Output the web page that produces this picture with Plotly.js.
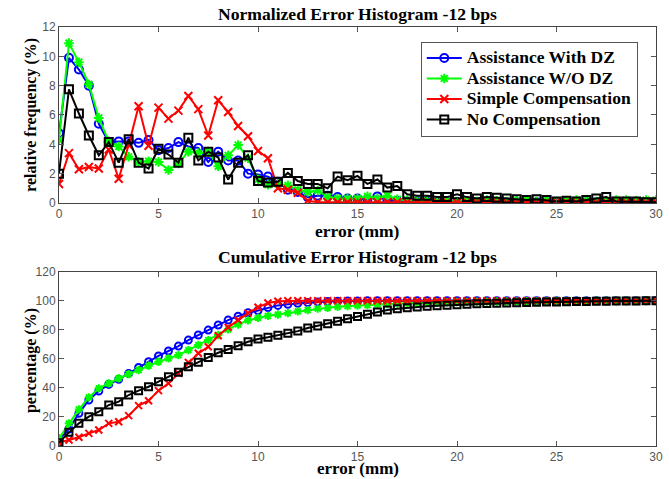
<!DOCTYPE html>
<html>
<head>
<meta charset="utf-8">
<script src="https://cdn.plot.ly/plotly-3.0.1.min.js"></script>
<style>html,body{margin:0;padding:0;background:#fff;}#chart{width:669px;height:479px;}</style>
</head>
<body>
<div id="chart"></div>
<script>
// error bins (mm)
const errorBins = [0,0.5,1,1.5,2,2.5,3,3.5,4,4.5,5,5.5,6,6.5,7,7.5,8,8.5,9,9.5,10,10.5,11,11.5,12,12.5,13,13.5,14,14.5,15,15.5,16,16.5,17,17.5,18,18.5,19,19.5,20,20.5,21,21.5,22,22.5,23,23.5,24,24.5,25,25.5,26,26.5,27,27.5,28,28.5,29,29.5,30];

const seriesNames = ["Assistance With DZ","Assistance W/O DZ","Simple Compensation","No Compensation"];

// Normalized error histogram (relative frequency, %)
const relWithDZ = [4.75,9.9,9.1,8.0,5.4,4.15,4.2,4.2,4.1,4.3,3.6,3.75,4.15,3.85,3.75,2.8,3.5,2.9,2.9,2.0,1.95,1.8,1.45,0.9,0.75,0.4,0.5,0.5,0.4,0.3,0.3,0.25,0.45,0.2,0.15,0.1,0.1,0.1,0.05,0.05,0.05,0.05,0.05,0.05,0.05,0.05,0.05,0.05,0.05,0.05,0.05,0.05,0.05,0.05,0.05,0.05,0.05,0.05,0.05,0.05,0.05];
const relWithoutDZ = [4.3,10.9,9.6,8.1,5.8,4.2,3.85,3.15,2.8,2.85,2.8,2.25,2.7,3.5,3.4,3.5,2.5,3.25,3.95,3.05,1.6,1.25,1.3,1.2,0.9,0.75,0.85,0.4,0.3,0.3,0.3,0.45,0.3,0.5,0.25,0.2,0.15,0.15,0.1,0.15,0.1,0.15,0.1,0.2,0.15,0.1,0.15,0.2,0.1,0.15,0.1,0.15,0.2,0.15,0.1,0.15,0.2,0.2,0.15,0.2,0.2];
const relSimple = [1.3,3.4,2.3,2.45,2.35,3.65,1.65,3.95,6.6,3.9,6.5,5.75,6.3,7.3,6.4,4.6,7.0,6.2,5.25,4.55,3.55,3.05,1.0,0.9,0.7,0.15,0.05,0.05,0.05,0.05,0.05,0.05,0.05,0.05,0.05,0.05,0.05,0.05,0.05,0.05,0.05,0.05,0.05,0.05,0.05,0.05,0.05,0.05,0.05,0.05,0.05,0.05,0.05,0.05,0.05,0.05,0.05,0.05,0.05,0.05,0.05];
const relNone = [2.0,7.75,6.1,4.6,3.25,4.15,2.75,4.35,2.75,2.35,3.7,3.3,2.75,4.45,2.9,3.5,3.1,1.6,2.75,3.25,1.5,1.4,1.45,2.05,1.5,1.3,1.3,1.0,1.8,1.55,1.85,1.3,1.6,1.05,1.15,0.6,0.5,0.5,0.4,0.4,0.6,0.4,0.3,0.4,0.35,0.3,0.25,0.2,0.25,0.2,0.1,0.15,0.1,0.2,0.3,0.4,0.1,0.1,0.1,0.05,0.05];

// Cumulative error histogram (percentage, %)
const cumWithDZ = [4.1,11.7,22.5,31.7,37.8,42.4,45.9,50,54.1,58,62,65.4,68.8,72.9,76.4,79.8,83.3,86.7,89.4,91.7,93.3,95.3,96.8,97.6,98.2,98.8,99.2,99.5,99.7,99.8,99.9,100,100,100,100,100,100,100,100,100,100,100,100,100,100,100,100,100,100,100,100,100,100,100,100,100,100,100,100,100,100];
const cumWithoutDZ = [5.3,15.6,25.2,33.5,39.7,43.1,46.6,49.5,52.3,55.3,58,60.3,62.6,66,69.5,72.9,76.4,80.3,83.7,86.5,88.3,89.6,90.5,91.5,92.7,93.6,94.6,95.2,95.8,96.3,96.7,97.1,97.5,97.8,98.1,98.3,98.5,98.7,98.8,99.0,99.1,99.2,99.3,99.4,99.5,99.55,99.6,99.65,99.7,99.75,99.8,99.85,99.9,99.9,99.95,100,100,100,100,100,100];
const cumSimple = [2.3,4.1,6,8.7,11,15.6,16.7,20.9,27.8,31.2,38.1,43.1,50,57.6,63.8,68.3,75.9,81.7,86.7,91.5,95.5,98.5,99.6,100,100,100,100,100,100,100,100,100,100,100,100,100,100,100,100,100,100,100,100,100,100,100,100,100,100,100,100,100,100,100,100,100,100,100,100,100,100];
const cumNone = [2.3,9.4,15.6,20.2,23.6,28.2,30.5,35.1,38.1,40.8,44.3,47.7,50.7,54.6,57.6,61,64.2,66.5,69,71.8,73.6,74.8,76.2,77.6,79.1,81.2,82.6,84.2,85.9,87.6,89.2,90.7,92.2,93.6,94.5,95.2,95.7,96.2,96.6,96.9,97.3,97.6,97.9,98.1,98.3,98.5,98.7,98.8,99.0,99.1,99.2,99.3,99.4,99.5,99.6,99.7,99.8,99.85,99.9,99.95,100];

const xTicks = [0,5,10,15,20,25,30];
const yTicksTop = [0,2,4,6,8,10,12];
const yTicksBottom = [0,20,40,60,80,100,120];

const titleTop = "Normalized Error Histogram -12 bps";
const titleBottom = "Cumulative Error Histogram -12 bps";
const xTitle = "error (mm)";
const yTitleTop = "relative frequency (%)";
const yTitleBottom = "percentage (%)";

const styles = [
  {color:"#0000ff", symbol:"circle-open"},
  {color:"#00ff00", symbol:"asterisk-open"},
  {color:"#ff0000", symbol:"x-thin-open"},
  {color:"#000000", symbol:"square-open"}
];

const relSeries = [relWithDZ, relWithoutDZ, relSimple, relNone];
const cumSeries = [cumWithDZ, cumWithoutDZ, cumSimple, cumNone];

const traces = [];
relSeries.forEach((ys, i) => {
  traces.push({
    x: errorBins, y: ys, name: '<span style="font-size:17.5px">' + seriesNames[i] + '</span>',
    type: "scatter", mode: "lines+markers",
    xaxis: "x", yaxis: "y",
    line: {color: styles[i].color, width: 2},
    marker: {symbol: styles[i].symbol, size: 8, color: styles[i].color, line: {color: styles[i].color, width: 2}}
  });
});
cumSeries.forEach((ys, i) => {
  traces.push({
    x: errorBins, y: ys, name: seriesNames[i], type: "scatter", mode: "lines+markers",
    xaxis: "x2", yaxis: "y2", showlegend: false,
    line: {color: styles[i].color, width: 2},
    marker: {symbol: styles[i].symbol, size: 7, color: styles[i].color, line: {color: styles[i].color, width: 2}}
  });
});

const serif = "'Liberation Serif', 'Times New Roman', serif";
const tickFont = {family: "'Liberation Sans', Arial, sans-serif", size: 12, color: "#555"};

function xAxis(anchor) {
  return {
    anchor: anchor, domain: [0, 1], range: [0, 30], tickvals: xTicks, ticktext: xTicks.map(String),
    ticks: "inside", ticklen: 5, tickcolor: "#555", showline: true, linecolor: "#444", linewidth: 1,
    mirror: "ticks", showgrid: false, zeroline: false, tickfont: tickFont
  };
}
function yAxis(anchor, domain, range, vals) {
  return {
    anchor: anchor, domain: domain, range: range, tickvals: vals, ticktext: vals.map(String),
    ticks: "inside", ticklen: 5, tickcolor: "#555", showline: true, linecolor: "#444", linewidth: 1,
    mirror: "ticks", showgrid: false, zeroline: false, tickfont: tickFont
  };
}

const boldSerif = (size) => ({family: serif, size: size, color: "#000", weight: "bold"});

const layout = {
  width: 669, height: 479,
  margin: {l: 59, r: 13, t: 27, b: 33},
  paper_bgcolor: "#fff", plot_bgcolor: "#fff",
  showlegend: true,
  xaxis: xAxis("y"),
  yaxis: yAxis("x", [0.58, 1], [0, 12], yTicksTop),
  xaxis2: xAxis("y2"),
  yaxis2: yAxis("x2", [0, 0.416], [0, 120], yTicksBottom),
  legend: {
    x: 0.606, y: 0.965, xanchor: "left", yanchor: "top",
    bgcolor: "#fff", bordercolor: "#555", borderwidth: 1,
    font: boldSerif(13.5), itemwidth: 35, tracegroupgap: 0
  },
  annotations: [
    {text: titleTop, xref: "paper", yref: "paper", x: 0.5, y: 1.031, xanchor: "center", yanchor: "middle", showarrow: false, font: boldSerif(17.6)},
    {text: titleBottom, xref: "paper", yref: "paper", x: 0.5, y: 0.451, xanchor: "center", yanchor: "middle", showarrow: false, font: boldSerif(17.6)},
    {text: xTitle, xref: "paper", yref: "paper", x: 0.5, y: 0.512, xanchor: "center", yanchor: "middle", showarrow: false, font: boldSerif(17.5)},
    {text: xTitle, xref: "paper", yref: "paper", x: 0.5, y: -0.0785, xanchor: "center", yanchor: "bottom", showarrow: false, font: boldSerif(17), borderpad: 0},
    {text: yTitleTop, xref: "paper", yref: "paper", x: -0.047, y: 0.79, xanchor: "center", yanchor: "middle", textangle: -90, showarrow: false, font: boldSerif(16)},
    {text: yTitleBottom, xref: "paper", yref: "paper", x: -0.047, y: 0.205, xanchor: "center", yanchor: "middle", textangle: -90, showarrow: false, font: boldSerif(16)}
  ]
};

Plotly.newPlot("chart", traces, layout, {displayModeBar: false, staticPlot: true});
</script>
</body>
</html>
